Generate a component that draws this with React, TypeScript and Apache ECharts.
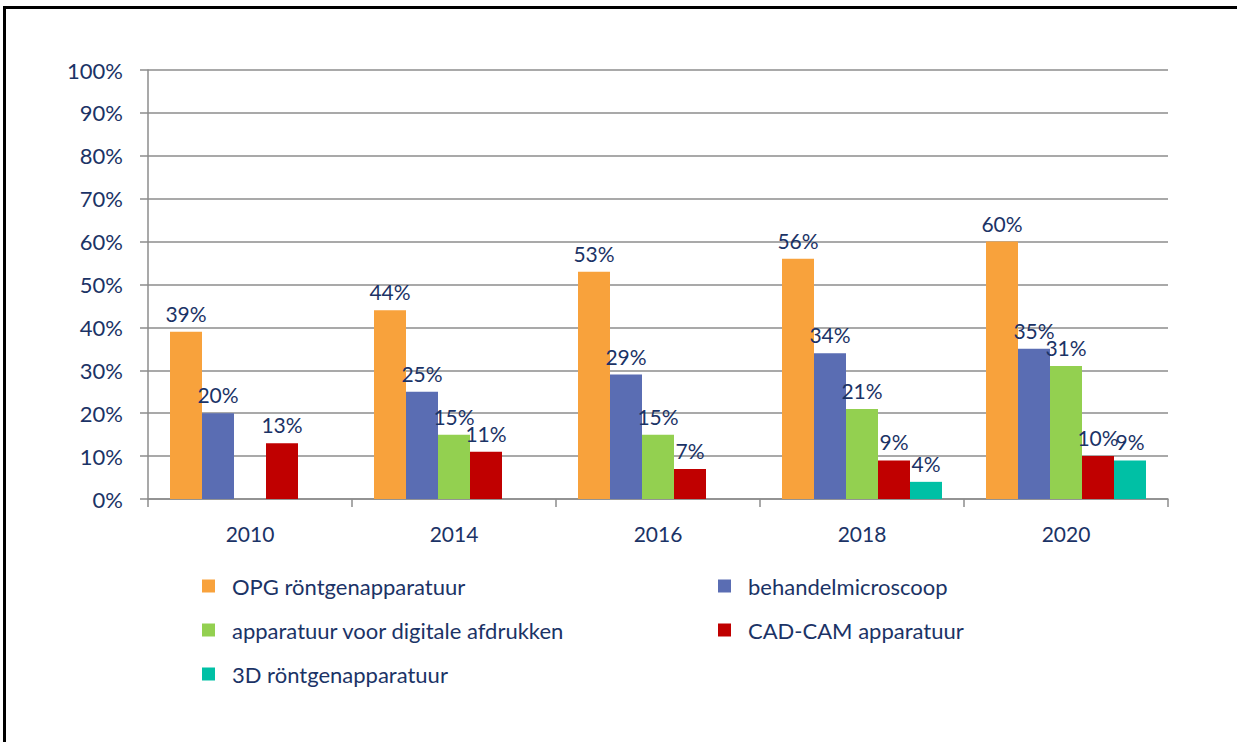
import React, { useEffect, useRef } from "react";
import * as echarts from "echarts";

const categories = ["2010", "2014", "2016", "2018", "2020"];
const seriesNames = [
  "OPG röntgenapparatuur",
  "behandelmicroscoop",
  "apparatuur voor digitale afdrukken",
  "CAD-CAM apparatuur",
  "3D röntgenapparatuur",
];
const opg = [39, 44, 53, 56, 60];
const microscoop = [20, 25, 29, 34, 35];
const digitaal = [null, 15, 15, 21, 31];
const cadcam = [13, 11, 7, 9, 10];
const drieD = [null, null, null, 4, 9];
const colors = ["#F8A23C", "#5A6DB3", "#93D050", "#C00000", "#00C0A5"];
const yTicks = { min: 0, max: 100, interval: 10 };

const FONT = "Lato";
const TEXT = "#1B3366";

export default function App() {
  const ref = useRef<HTMLDivElement>(null);
  useEffect(() => {
    document.body.style.margin = "0";
    const chart = echarts.init(ref.current!, null, { renderer: "svg" });
    const values = [opg, microscoop, digitaal, cadcam, drieD];
    const legendText = { color: TEXT, fontSize: 22, fontFamily: FONT, lineHeight: 24, padding: [0, 0, 0, 12] };
    chart.setOption({
      animation: false,
      backgroundColor: "#ffffff",
      textStyle: { fontFamily: FONT },
      grid: { left: 148, right: 69, top: 70, bottom: 243, containLabel: false },
      xAxis: {
        type: "category",
        data: categories,
        axisLine: { show: true, lineStyle: { color: "#8c8c8c", width: 1.5 } },
        axisTick: { show: true, length: 8, alignWithLabel: false, lineStyle: { color: "#8c8c8c", width: 1.5 } },
        axisLabel: { color: TEXT, fontSize: 21, fontFamily: FONT, margin: 24 },
      },
      yAxis: {
        type: "value",
        min: yTicks.min,
        max: yTicks.max,
        interval: yTicks.interval,
        axisLine: { show: true, lineStyle: { color: "#8c8c8c", width: 1.5 } },
        axisTick: { show: true, length: 8, lineStyle: { color: "#8c8c8c", width: 1.5 } },
        splitLine: { show: true, lineStyle: { color: "#8c8c8c", width: 1.5 } },
        axisLabel: { color: TEXT, fontSize: 22, fontFamily: FONT, margin: 25, formatter: "{value}%" },
      },
      legend: [
        {
          data: [seriesNames[0], seriesNames[2], seriesNames[4]],
          orient: "vertical",
          left: 197,
          top: 569,
          itemWidth: 13,
          itemHeight: 13,
          itemGap: 20,
          icon: "rect",
          textStyle: legendText,
        },
        {
          data: [seriesNames[1], seriesNames[3]],
          orient: "vertical",
          left: 713,
          top: 569,
          itemWidth: 13,
          itemHeight: 13,
          itemGap: 20,
          icon: "rect",
          textStyle: legendText,
        },
      ],
      graphic: [
        { type: "line", shape: { x1: 3, y1: 7.5, x2: 1237, y2: 7.5 }, style: { stroke: "#000", lineWidth: 3 } },
        { type: "line", shape: { x1: 4.5, y1: 6, x2: 4.5, y2: 742 }, style: { stroke: "#000", lineWidth: 3 } },
      ],
      series: seriesNames.map((name, i) => ({
        name,
        type: "bar",
        data: values[i],
        barWidth: 32,
        barGap: "0%",
        itemStyle: { color: colors[i] },
        label: {
          show: true,
          position: "top",
          distance: 8,
          color: TEXT,
          fontSize: 21,
          fontFamily: FONT,
          formatter: "{c}%",
        },
      })),
    });
    return () => chart.dispose();
  }, []);
  return <div ref={ref} style={{ width: 1237, height: 742 }} />;
}
